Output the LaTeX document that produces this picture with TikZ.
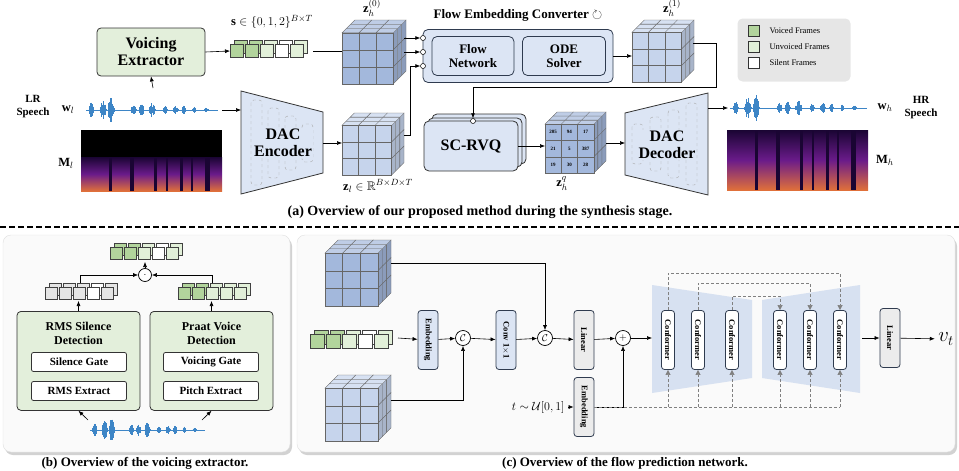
\documentclass[tikz,border=0pt]{standalone}
\usepackage{fontspec}
\setmainfont{Liberation Serif}
\usepackage{amsmath,amssymb}
\usetikzlibrary{arrows.meta,positioning}

\definecolor{vcol}{HTML}{B2D49C}
\definecolor{ucol}{HTML}{E2F0D9}
\definecolor{gbox}{HTML}{E3EFDB}
\definecolor{bbox}{HTML}{DCE5F4}
\definecolor{cubec}{HTML}{C6D4EC}
\definecolor{cubed}{HTML}{A3B8DC}
\definecolor{panel}{HTML}{FAFAFA}
\definecolor{legbg}{HTML}{E6E6E6}
\definecolor{wavec}{HTML}{3D85C6}
\definecolor{conf}{HTML}{D7E1F1}
\definecolor{edge}{HTML}{2F3B4F}
\definecolor{specd}{HTML}{1A0533}
\definecolor{specm}{HTML}{6A1B8A}
\definecolor{specb}{HTML}{E0703A}

\tikzset{
  arr/.style={-{Latex[length=5pt,width=4pt]},line width=.6pt},
  lab/.style={font=\fontsize{12.5}{14}\selectfont},
  greenbox/.style={draw=black!80,fill=gbox,rounded corners=4pt,line width=.8pt,align=center,font=\bfseries},
  bluebox/.style={draw=edge,fill=bbox,rounded corners=5pt,line width=.8pt,align=center,font=\bfseries},
  whitebox/.style={draw=black!80,fill=white,rounded corners=2pt,line width=.8pt,font=\bfseries\fontsize{11}{12}\selectfont,minimum width=95,minimum height=19,inner sep=0pt},
  vblock/.style={draw=edge,rounded corners=3pt,line width=.8pt,minimum width=20,minimum height=59,inner sep=0pt},
  vlabel/.style={rotate=-90,font=\bfseries\fontsize{8.5}{9}\selectfont},
  port/.style={draw,circle,fill=white,inner sep=0pt,minimum size=5pt,line width=.5pt},
  op/.style={draw,circle,fill=white,inner sep=0pt,minimum size=15pt,line width=.7pt},
  skip/.style={densely dashed,draw=gray,line width=.6pt},
  skiparr/.style={skip,-{Triangle[length=5pt,width=5pt]},draw=gray},
}

% grid cube: x, y (top), size, colour
\newcommand\gridcube[4]{%
  \pgfmathsetmacro\cubeD{#3*0.2}\pgfmathsetmacro\cubeF{#3-\cubeD}%
  \begin{scope}[shift={(#1,#2)},line width=.3pt,draw=black!60]
    \foreach \i in {0,1,2}{\foreach \k in {0,1,2}{
      \filldraw[fill=#4!70!white] ({\i*\cubeF/3+\k*\cubeD/3},{\cubeD-\k*\cubeD/3}) -- ++({\cubeF/3},0) -- ++({\cubeD/3},{-\cubeD/3}) -- ++({-\cubeF/3},0) -- cycle;
      \filldraw[fill=#4!85!black] ({\cubeF+\k*\cubeD/3},{\cubeD+\i*\cubeF/3-\k*\cubeD/3}) -- ++({\cubeD/3},{-\cubeD/3}) -- ++(0,{\cubeF/3}) -- ++({-\cubeD/3},{\cubeD/3}) -- cycle;
      \filldraw[fill=#4] ({\i*\cubeF/3},{\cubeD+\k*\cubeF/3}) rectangle ++({\cubeF/3},{\cubeF/3});
    }}
  \end{scope}}

% frame strip: x, y (top), size, colours
\newcommand\framestrip[4]{%
  \foreach \c [count=\i] in {#4}{\filldraw[fill=\c,draw=black!75,line width=.5pt] ({#1+(\i-1)*(#3+2)+4},{#2-4}) rectangle ++(#3,#3);}
  \foreach \c [count=\i] in {#4}{\filldraw[fill=\c,draw=black!75,line width=.5pt] ({#1+(\i-1)*(#3+2)},#2) rectangle ++(#3,#3);}}

% speech waveform: x, y, length
\newcommand\speech[3]{%
  \draw[wavec,line width=.4pt] (#1,#2) -- ++(#3,0);
  \foreach \c/\w/\a in {.04/.02/.7,.13/.025/1,.19/.025/1.25,.36/.02/.5,.42/.02/.6,.5/.025/.75,.6/.015/.45,.68/.02/.45,.74/.015/.45,.82/.012/.3,.91/.015/.2}{
    \foreach \t in {-1,-.85,...,1}{
      \pgfmathsetmacro\hh{\a*10*(1-\t*\t)*(.35+.65*rnd)+.5}
      \draw[wavec,line width=.9pt] ({#1+(\c+\t*\w)*#3},{#2-\hh}) -- ++(0,{2*\hh});}}}

% spectrogram: x, y, w, h, silent top part
\newcommand\spectro[5]{%
  \fill[black] (#1,#2) rectangle ++(#3,#4);
  \shade[bottom color=specb,top color=specd,middle color=specm] ({#1},{#2+#5}) rectangle ({#1+#3},{#2+#4});
  \foreach \s/\sw in {.2/3,.35/4,.52/3,.6/2,.7/3,.78/2,.88/5}{\fill[specd] ({#1+\s*#3},{#2+#5}) rectangle ++(\sw,{#4-#5});}}

\begin{document}
\begin{tikzpicture}[x=1pt,y=-1pt]
\useasboundingbox (0,0) rectangle (959,471);
\pgfmathsetseed{7}

% ---------- (a) synthesis stage ----------
\node[greenbox,minimum width=108,minimum height=48,font=\bfseries\fontsize{16}{17}\selectfont] (ve) at (151,52) {Voicing\\Extractor};
\framestrip{230}{44}{13}{vcol,vcol,ucol,white,ucol}
\node[lab] (s) at (272,22) {$\mathbf{s}\in\{0,1,2\}^{B\times T}$};
\coordinate (sin) at (230,51);
\coordinate (sout) at (313,51);
\draw[arr] (ve.east) -- (sin);

\gridcube{342}{20}{64}{cubed}
\node[lab] (z0) at (372,8) {$\mathbf{z}_h^{(0)}$};
\draw (sout) -- (342,51);

\node[bluebox,minimum width=190,minimum height=53] (fec) at (518,56) {};
\node[bluebox,minimum width=82,minimum height=39,font=\bfseries\fontsize{13}{14}\selectfont] (fn) at (473,56) {Flow\\Network};
\node[bluebox,minimum width=83,minimum height=39,font=\bfseries\fontsize{13}{14}\selectfont] (ode) at (564,56) {ODE\\Solver};
\node[font=\bfseries\fontsize{13}{14}\selectfont] (fect) at (518,15) {Flow Embedding Converter $\circlearrowright$};
\node[port] (p1) at (423,38) {};
\node[port] (p2) at (423,52) {};
\node[port] (p3) at (423,66) {};
\coordinate (z0a) at (404,38);
\coordinate (z0b) at (404,52);
\draw[arr] (z0a) -- (p1);
\draw[arr] (z0b) -- (p2);

\gridcube{632}{20}{62}{cubec}
\node[lab] (z1) at (672,8) {$\mathbf{z}_h^{(1)}$};
\coordinate (z1in) at (632,56);
\coordinate (z1out) at (693,43);
\draw[arr] (fec.east) -- (z1in);

% legend
\node[fill=legbg,rounded corners=5pt,minimum width=113,minimum height=63] (leg) at (794,50) {};
\foreach \c/\t [count=\i] in {vcol/Voiced Frames,ucol/Unvoiced Frames,white/Silent Frames}{
  \filldraw[fill=\c,draw=black!80,line width=.6pt] (748,{25+(\i-1)*16}) rectangle ++(11,11);
  \node[anchor=west,font=\fontsize{8.5}{9}\selectfont] (leg\i) at (766,{31+(\i-1)*16}) {\t};}

% input speech
\node[font=\bfseries\fontsize{11}{13}\selectfont,align=center] (lr) at (33,107) {LR\\Speech};
\node[lab] (wl) at (68,110) {$\mathbf{w}_l$};
\speech{86}{110}{132}
\spectro{81}{130}{141}{61}{27}
\node[lab] (ml) at (66,163) {$\mathbf{M}_l$};
\coordinate (wlout) at (222,110);
\coordinate (wlup) at (153,88);
\draw[arr] (wlup) -- (ve.south);

% encoder
\filldraw[fill=bbox,draw=black!80,line width=.8pt] (241,91) -- (323,112) -- (323,173) -- (241,194) -- cycle;
\foreach \x/\a/\b in {251/100/185,268/108/178,285/116/170,302/124/162}{\draw[gray!70,dashed,rounded corners=3pt] (\x,\a) rectangle ++(11,\b-\a);}
\node[font=\bfseries\fontsize{16}{17}\selectfont,align=center,fill=bbox,inner sep=1pt] (enc) at (283,143) {DAC\\Encoder};
\coordinate (encin) at (241,110);
\coordinate (encout) at (323,143);
\draw[arr] (wlout) -- (encin);

\gridcube{342}{113}{62}{cubec}
\node[lab] (zl) at (378,186) {$\mathbf{z}_l\in\mathbb{R}^{B\times D\times T}$};
\coordinate (zlin) at (342,143);
\coordinate (zlout) at (404,135);
\draw[arr] (encout) -- (zlin);
\draw[arr] (zlout) -- (410,135) |- (p3);

% SC-RVQ
\filldraw[fill=bbox,draw=black!80,line width=.8pt,rounded corners=5pt] (432,114) rectangle (526,164);
\filldraw[fill=bbox,draw=black!80,line width=.8pt,rounded corners=5pt] (428,118) rectangle (522,167);
\node[bluebox,draw=black!80,minimum width=94,minimum height=50,font=\bfseries\fontsize{16}{17}\selectfont] (rvq) at (471,146) {SC-RVQ};
\node[port] (p4) at (473,121) {};
\draw[arr] (z1out) -- (716,43) -- (716,87) -| (p4);

\gridcube{545}{112}{61}{cubed}
\foreach \v [count=\n from 0] in {205,94,17,21,5,387,19,30,28}{
  \pgfmathtruncatemacro\ci{mod(\n,3)}\pgfmathtruncatemacro\cj{div(\n,3)}
  \node[font=\bfseries\fontsize{5}{5}\selectfont,inner sep=0pt] (q\n) at ({545+8.1+\ci*16.3},{124.2+8.1+\cj*16.3}) {\v};}
\node[lab] (zq) at (562,184) {$\mathbf{z}_h^{q}$};
\coordinate (zqin) at (545,146);
\coordinate (zqout) at (606,143);
\draw[arr] (rvq.east) -- (zqin);

% decoder
\filldraw[fill=bbox,draw=black!80,line width=.8pt] (625,113) -- (708,93) -- (708,195) -- (625,175) -- cycle;
\foreach \x/\a/\b in {632/124/164,650/117/171,668/110/178,686/103/185}{\draw[gray!70,dashed,rounded corners=3pt] (\x,\a) rectangle ++(11,\b-\a);}
\node[font=\bfseries\fontsize{16}{17}\selectfont,align=center,fill=bbox,inner sep=1pt] (dec) at (667,145) {DAC\\Decoder};
\coordinate (decin) at (625,143);
\coordinate (decout) at (708,108);
\draw[arr] (zqout) -- (decin);
\coordinate (whin) at (728,108);
\draw[arr] (decout) -- (whin);
\speech{730}{108}{137}
\spectro{727}{130}{141}{60}{0}
\node[lab] (wh) at (885,108) {$\mathbf{w}_h$};
\node[font=\bfseries\fontsize{11}{13}\selectfont,align=center] (hr) at (921,108) {HR\\Speech};
\node[lab] (mh) at (885,160) {$\mathbf{M}_h$};

\node[font=\bfseries\fontsize{14}{15}\selectfont] (capa) at (480,212) {(a) Overview of our proposed method during the synthesis stage.};
\draw[dash pattern=on 6pt off 3pt,line width=1.3pt] (0,227) -- (959,227);

% ---------- (b) voicing extractor ----------
\fill[gray!35,rounded corners=8pt] (5,238) rectangle (292,455);
\filldraw[fill=panel,draw=gray!25,rounded corners=8pt] (3,235) rectangle (290,452);
\framestrip{110}{247}{12}{vcol,vcol,ucol,white,ucol}
\node[op,minimum size=13pt] (dot) at (145,275) {$\cdot$};
\framestrip{45}{287}{12}{gray!20,gray!20,gray!20,white,gray!20}
\framestrip{178}{287}{12}{vcol,vcol,ucol,ucol,ucol}
\coordinate (lf) at (80,283);
\coordinate (rf) at (212,283);
\coordinate (tf) at (145,262);
\draw[arr] (lf) |- (dot.west);
\draw[arr] (rf) |- (dot.east);
\draw[arr] (dot.north) -- (tf);

\node[greenbox,minimum width=123,minimum height=99,anchor=north] (rms) at (78.5,311) {};
\node[greenbox,minimum width=123,minimum height=99,anchor=north] (praat) at (211.5,311) {};
\node[font=\bfseries\fontsize{12}{14}\selectfont,align=center] (rmst) at (78.5,333) {RMS Silence\\Detection};
\node[font=\bfseries\fontsize{12}{14}\selectfont,align=center] (praatt) at (211.5,333) {Praat Voice\\Detection};
\node[whitebox] (sg) at (79,362) {Silence Gate};
\node[whitebox] (re) at (79,391) {RMS Extract};
\node[whitebox] (vg) at (211,362) {Voicing Gate};
\node[whitebox] (pe) at (211,391) {Pitch Extract};
\draw[arr] (rms.north) -- ++(0,-10);
\draw[arr] (praat.north) -- ++(0,-10);
\speech{90}{430}{115}
\coordinate (bw1) at (88,420);
\coordinate (bw2) at (202,420);
\draw[arr] (bw1) -- (rms.south);
\draw[arr] (bw2) -- (praat.south);
\node[font=\bfseries\fontsize{13}{14}\selectfont] (capb) at (145,463) {(b) Overview of the voicing extractor.};

% ---------- (c) flow prediction network ----------
\fill[gray!35,rounded corners=8pt] (299,238) rectangle (957,455);
\filldraw[fill=panel,draw=gray!25,rounded corners=8pt] (297,235) rectangle (955,452);
\gridcube{325}{240}{66}{cubed}
\gridcube{325}{375}{66}{cubec}
\framestrip{310}{334}{14}{vcol,vcol,ucol,white,ucol}

\node[vblock,fill=bbox] (emb1) at (428,340) {};
\node[vlabel] at (emb1) {Embedding};
\node[op] (c1) at (463,338) {$\mathcal{C}$};
\node[vblock,fill=bbox] (conv) at (506,340) {};
\node[vlabel] at (conv) {Conv 1$\times$1};
\node[op] (c2) at (545,338) {$\mathcal{C}$};
\node[vblock,fill=gray!15] (lin1) at (584,340) {};
\node[vlabel] at (lin1) {Linear};
\node[op] (plus) at (623,338) {$+$};
\node[vblock,fill=gray!15] (emb2) at (584,407) {};
\node[vlabel] at (emb2) {Embedding};
\node[lab,anchor=east] (t) at (568,407) {$t\sim\mathcal{U}[0,1]$};

\coordinate (fr) at (398,338);
\coordinate (cta) at (391,263);
\coordinate (ctb) at (391,400);
\draw[arr] (fr) -- (emb1);
\draw[arr] (emb1) -- (c1);
\draw[arr] (ctb) -| (c1);
\draw[arr] (c1) -- (conv);
\draw[arr] (conv) -- (c2);
\draw[arr] (cta) -| (c2);
\draw[arr] (c2) -- (lin1);
\draw[arr] (lin1) -- (plus);
\draw[arr] (t) -- (emb2);
\draw[arr] (emb2.east) -| (plus);

% conformer U-net
\fill[conf] (652,285) -- (752,300) -- (752,378) -- (652,393) -- cycle;
\fill[conf] (762,300) -- (860,285) -- (860,393) -- (762,378) -- cycle;
\foreach \x [count=\i] in {668,698,732,780,810,840}{
  \node[draw=edge,fill=white,rounded corners=3pt,line width=.8pt,minimum width=13,minimum height=59,inner sep=0pt] (cf\i) at (\x,340) {};
  \node[vlabel] at (cf\i) {Conformer};}
\coordinate (uin) at (652,338);
\coordinate (uout) at (862,338);
\draw[arr] (plus) -- (uin);
\draw[skip] (emb2.east) -- (840,407);
\foreach \i in {1,...,6}{\draw[skiparr] (cf\i.south |- 0,407) -- (cf\i.south);}
\draw[skiparr] (cf1.north) -- ++(0,-37) -| (cf6.north);
\draw[skiparr] (cf2.north) -- ++(0,-27) -| (cf5.north);
\draw[skiparr] (cf3.north) -- ++(0,-14) -| (cf4.north);

\node[vblock,fill=gray!15] (lin2) at (890,338) {};
\node[vlabel] at (lin2) {Linear};
\node[font=\fontsize{20}{21}\selectfont] (vt) at (946,339) {$v_t$};
\draw[arr] (uout) -- (lin2);
\draw[arr] (lin2) -- (vt);
\node[font=\bfseries\fontsize{13}{14}\selectfont] (capc) at (625,463) {(c) Overview of the flow prediction network.};
\end{tikzpicture}
\end{document}
